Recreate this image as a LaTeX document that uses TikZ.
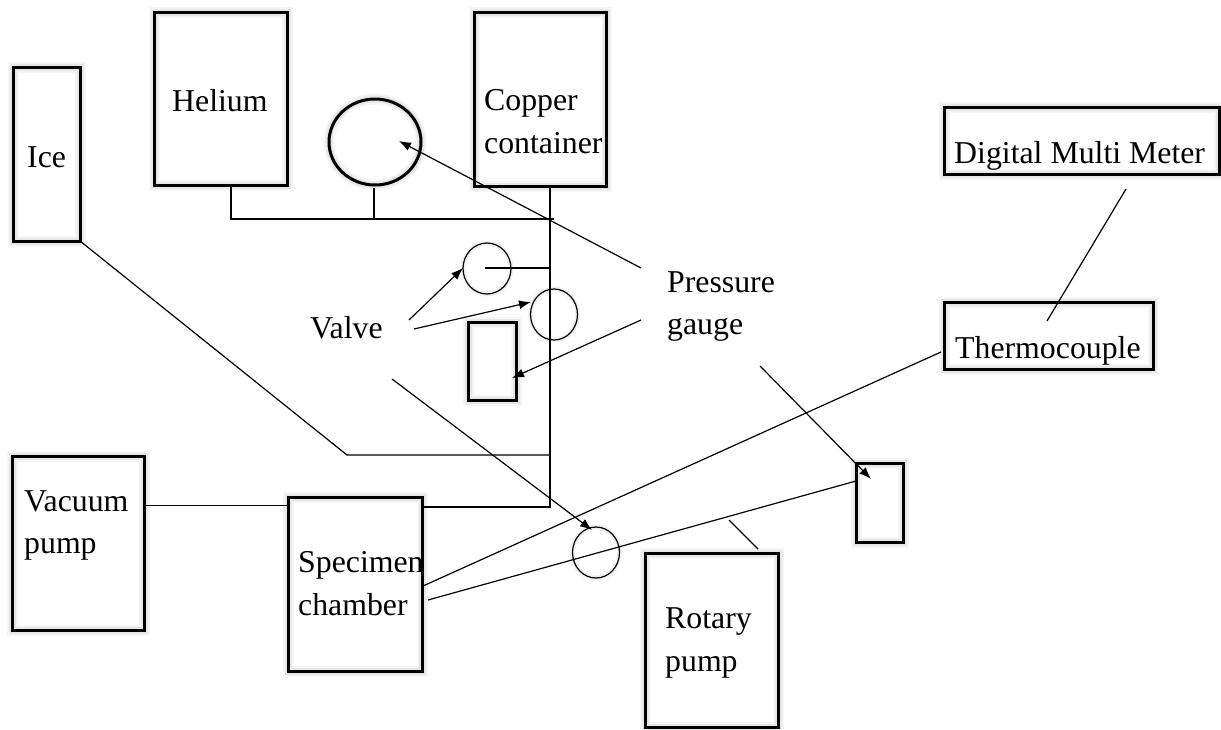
\documentclass[tikz,border=0pt]{standalone}
\usepackage{fontspec}
\setmainfont{Liberation Serif}
\usetikzlibrary{arrows.meta, shapes.geometric}
\tikzset{
    tank/.style={draw, line width=3pt, inner sep=0pt,
        preaction={draw=black, opacity=0.04, line width=11pt},
        preaction={draw=black, opacity=0.06, line width=7pt}},
    valve/.style={draw, ellipse, line width=1.2pt, inner sep=0pt,
        preaction={draw=black, opacity=0.05, line width=5pt}},
    caption/.style={anchor=west, align=left, inner sep=0pt, font=\fontsize{31.8}{42.5}\selectfont},
    pipe/.style={line width=1.2pt},
    pointer/.style={line width=1.2pt, -{Latex[length=12pt, width=9pt]}}
}
\begin{document}
\begin{tikzpicture}[x=1pt, y=-1pt]
    \useasboundingbox (0,0) rectangle (1221,729);

    % Tanks and pumps
    \node[tank, minimum width=133pt, minimum height=173pt] (helium) at (220.5,98.5) {};
    \node[tank, minimum width=67pt, minimum height=174pt] (ice) at (46.5,154) {};
    \node[tank, minimum width=132pt, minimum height=174pt] (copper) at (540,99) {};
    \node[tank, minimum width=132pt, minimum height=174pt] (vacuum) at (78,543) {};
    \node[tank, minimum width=134pt, minimum height=174pt] (specimen) at (355,584.5) {};
    \node[tank, minimum width=133pt, minimum height=174pt] (rotary) at (711.5,640) {};
    \node[tank, minimum width=275pt, minimum height=67pt] (meter) at (1081.5,140.5) {};
    \node[tank, minimum width=209pt, minimum height=67pt] (thermo) at (1048.5,335.5) {};

    % Gauges
    \node[tank, ellipse, minimum width=92pt, minimum height=86pt] (gaugetop) at (375,142) {};
    \node[tank, minimum width=48pt, minimum height=78pt] (gaugeleft) at (492.5,361) {};
    \node[tank, minimum width=47pt, minimum height=79pt] (gaugeright) at (879.5,502.5) {};

    % Valves
    \node[valve, minimum width=48pt, minimum height=51pt] (valveone) at (487,268.5) {};
    \node[valve, minimum width=47pt, minimum height=51pt] (valvetwo) at (554,314.5) {};
    \node[valve, minimum width=47pt, minimum height=51pt] (valvethree) at (596,552.5) {};

    % Free ends of the lines
    \coordinate (heliumout) at (231,185);
    \coordinate (gaugestem) at (374,188);
    \coordinate (topjoint) at (554,219);
    \coordinate (gaugejoint) at (374,219);
    \coordinate (heliumjoint) at (231,219);
    \coordinate (copperout) at (550,186);
    \coordinate (lowjoint) at (550,507);
    \coordinate (specimenin) at (422,507);
    \coordinate (valveonein) at (485,268);
    \coordinate (valveonejoint) at (550,268);
    \coordinate (iceout) at (80,241);
    \coordinate (icebend) at (347,455);
    \coordinate (icejoint) at (550,455);
    \coordinate (vacuumout) at (146,505.5);
    \coordinate (specimenleft) at (288,505.5);
    \coordinate (thermostart) at (423,586);
    \coordinate (thermoend) at (941,352);
    \coordinate (rotarystart) at (428,600);
    \coordinate (rotaryend) at (856,481);
    \coordinate (stubtop) at (729,520);
    \coordinate (stubbottom) at (758,549);
    \coordinate (meterout) at (1126,189);
    \coordinate (thermoin) at (1047,321);
    \coordinate (pressurea) at (641,268);
    \coordinate (pressureb) at (641,320);
    \coordinate (pressurec) at (760,366);
    \coordinate (pressurecend) at (871,479);
    \coordinate (valvea) at (409,320);
    \coordinate (valveb) at (414,329);
    \coordinate (valvec) at (392,379);
    \coordinate (gaugetopend) at (399,141);
    \coordinate (gaugeleftend) at (512,378);
    \coordinate (valveoneend) at (463,268);
    \coordinate (valvetwoend) at (531,302);
    \coordinate (valvethreeend) at (592,530);

    % Pipes
    \draw[pipe] (heliumout) -- (heliumjoint) -- (topjoint);
    \draw[pipe] (gaugestem) -- (gaugejoint);
    \draw[pipe] (copperout) -- (lowjoint) -- (specimenin);
    \draw[pipe] (valveonein) -- (valveonejoint);
    \draw[pipe] (iceout) -- (icebend) -- (icejoint);
    \draw[pipe] (vacuumout) -- (specimenleft);
    \draw[pipe] (thermostart) -- (thermoend);
    \draw[pipe] (rotarystart) -- (rotaryend);
    \draw[pipe] (stubtop) -- (stubbottom);
    \draw[pipe] (meterout) -- (thermoin);

    % Labels
    \node[caption] (heliumtext) at (172,100.5) {Helium};
    \node[caption] (icetext) at (27,157) {Ice};
    \node[caption] (coppertext) at (484,121.5) {Copper\\container};
    \node[caption] (metertext) at (954,156) {Digital Multi Meter};
    \node[caption] (thermotext) at (955,351) {Thermocouple};
    \node[caption] (vacuumtext) at (24,525.5) {Vacuum\\pump};
    \node[caption] (specimentext) at (298,583.5) {Specimen\\chamber};
    \node[caption] (rotarytext) at (665,643) {Rotary\\pump};
    \node[caption] (pressuretext) at (667,306.5) {Pressure\\gauge};
    \node[caption] (valvetext) at (310,327.5) {Valve};

    % Pointers
    \draw[pointer] (pressurea) -- (gaugetopend);
    \draw[pointer] (pressureb) -- (gaugeleftend);
    \draw[pointer] (pressurec) -- (pressurecend);
    \draw[pointer] (valvea) -- (valveoneend);
    \draw[pointer] (valveb) -- (valvetwoend);
    \draw[pointer] (valvec) -- (valvethreeend);
\end{tikzpicture}
\end{document}
